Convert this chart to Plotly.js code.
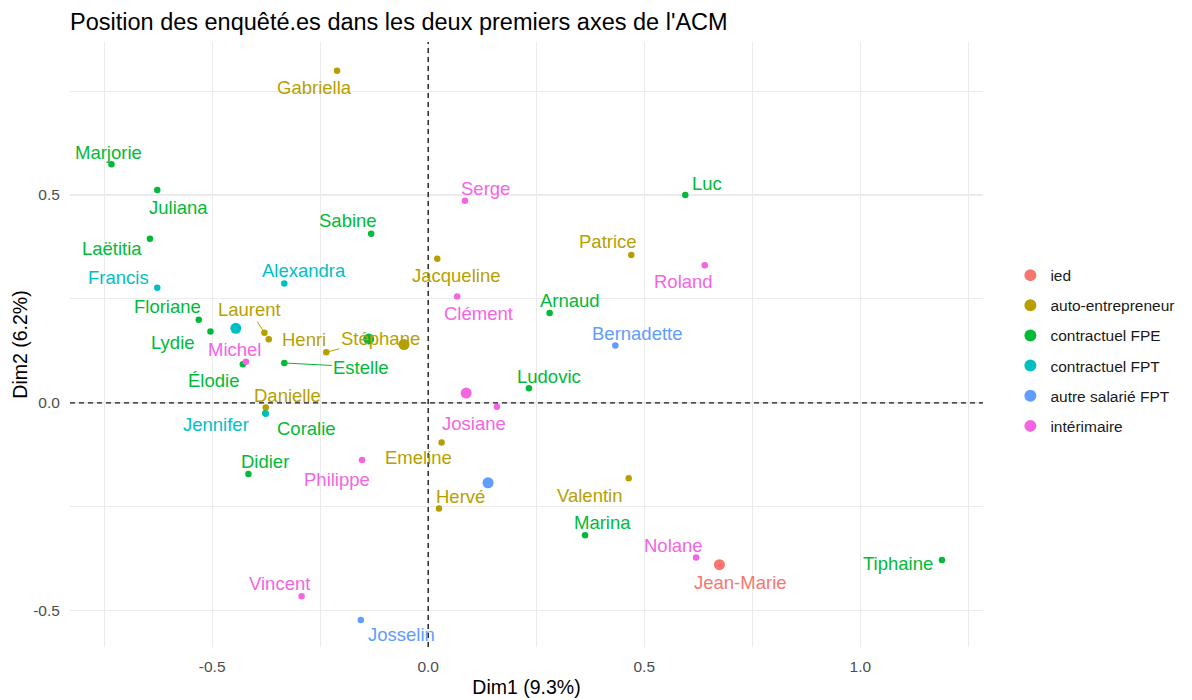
<!DOCTYPE html>
<html>
<head>
<meta charset="utf-8">
<script src="https://cdn.plot.ly/plotly-3.0.1.min.js"></script>
<style>html,body{margin:0;padding:0;background:#fff;}#chart{width:1192px;height:700px;}</style>
</head>
<body>
<div id="chart"></div>
<script>
// ---- data ----
const categories = ["ied", "auto-entrepreneur", "contractuel FPE", "contractuel FPT", "autre salarié FPT", "intérimaire"];
const names = ["Jean-Marie",
  "Gabriella","Laurent","Henri","Stéphane","Danielle","Jacqueline","Patrice","Emeline","Hervé","Valentin",
  "Marjorie","Juliana","Laëtitia","Sabine","Floriane","Lydie","Estelle","Élodie","Coralie","Luc","Arnaud","Ludovic","Didier","Marina","Tiphaine",
  "Francis","Alexandra","Jennifer",
  "Bernadette","Josselin",
  "Michel","Serge","Roland","Clément","Josiane","Philippe","Vincent","Nolane"];
const groups = ["ied",
  "auto-entrepreneur","auto-entrepreneur","auto-entrepreneur","auto-entrepreneur","auto-entrepreneur","auto-entrepreneur","auto-entrepreneur","auto-entrepreneur","auto-entrepreneur","auto-entrepreneur",
  "contractuel FPE","contractuel FPE","contractuel FPE","contractuel FPE","contractuel FPE","contractuel FPE","contractuel FPE","contractuel FPE","contractuel FPE","contractuel FPE","contractuel FPE","contractuel FPE","contractuel FPE","contractuel FPE","contractuel FPE",
  "contractuel FPT","contractuel FPT","contractuel FPT",
  "autre salarié FPT","autre salarié FPT",
  "intérimaire","intérimaire","intérimaire","intérimaire","intérimaire","intérimaire","intérimaire","intérimaire"];
const dim1 = [0.674,
  -0.211,-0.379,-0.369,-0.236,-0.376,0.021,0.470,0.031,0.025,0.464,
  -0.733,-0.627,-0.644,-0.132,-0.531,-0.504,-0.333,-0.429,-0.377,0.595,0.281,0.233,-0.416,0.363,1.189,
  -0.627,-0.333,-0.376,
  0.433,-0.156,
  -0.422,0.085,0.640,0.067,0.159,-0.153,-0.293,0.620];
const dim2 = [-0.389,
  0.799,0.169,0.153,0.122,-0.011,0.347,0.356,-0.095,-0.254,-0.181,
  0.574,0.512,0.395,0.407,0.200,0.172,0.096,0.093,-0.025,0.500,0.216,0.035,-0.171,-0.318,-0.378,
  0.277,0.287,-0.026,
  0.138,-0.522,
  0.099,0.486,0.331,0.256,-0.009,-0.137,-0.465,-0.372];
const xTickVals = [-0.5, 0, 0.5, 1];
const xTickText = ["-0.5", "0.0", "0.5", "1.0"];
const yTickVals = [-0.5, 0, 0.5];
const yTickText = ["-0.5", "0.0", "0.5"];

// ---- styles / label placement (pixels, label centre relative to point) ----
const colors = {"ied":"#F8766D","auto-entrepreneur":"#B79F00","contractuel FPE":"#00BA38","contractuel FPT":"#00BFC4","autre salarié FPT":"#619CFF","intérimaire":"#F564E3"};
const labelPos = {
  "Marjorie":[-3,-12],"Juliana":[21,17],"Laëtitia":[-38,10],"Francis":[-39,-10],"Sabine":[-23,-13],
  "Alexandra":[20,-13],"Floriane":[-31,-13],"Lydie":[-37,11],"Laurent":[-15,-23,1],"Henri":[35,0],
  "Stéphane":[54,-14,1],"Estelle":[77,4,1],"Michel":[-11,-12],"Élodie":[-29,16],"Danielle":[22,-12],
  "Jennifer":[-50,11],"Coralie":[41,15],"Jacqueline":[19,17],"Serge":[21,-12],"Luc":[22,-12],
  "Patrice":[-23,-13],"Roland":[-21,16],"Clément":[21,17],"Arnaud":[20,-13],"Bernadette":[22,-12],
  "Ludovic":[20,-12],"Josiane":[-23,17],"Emeline":[-23,15],"Philippe":[-25,20],"Didier":[17,-13],
  "Hervé":[21,-12],"Valentin":[-39,17],"Marina":[17,-13],"Vincent":[-22,-13],"Josselin":[41,15],
  "Nolane":[-23,-12],"Jean-Marie":[21,18],"Tiphaine":[-44,3],"Gabriella":[-23,17]
};
const FONT = "Liberation Sans, Arial, sans-serif";

const traces = [];
categories.forEach(cat => {
  const xs = [], ys = [];
  groups.forEach((g, i) => { if (g === cat) { xs.push(dim1[i]); ys.push(dim2[i]); } });
  traces.push({type:"scatter", mode:"markers", x:xs, y:ys, name:cat, legendgroup:cat,
    marker:{color:colors[cat], size:6.5}, hoverinfo:"skip", cliponaxis:false});
});
// group centroids (means of each category)
categories.forEach(cat => {
  const xs = [], ys = [];
  groups.forEach((g, i) => { if (g === cat) { xs.push(dim1[i]); ys.push(dim2[i]); } });
  const mx = xs.reduce((a,b)=>a+b,0)/xs.length, my = ys.reduce((a,b)=>a+b,0)/ys.length;
  traces.push({type:"scatter", mode:"markers", x:[mx], y:[my], name:cat, legendgroup:cat, showlegend:false,
    marker:{color:colors[cat], size:11}, hoverinfo:"skip"});
});

const annotations = names.map((n, i) => {
  const p = labelPos[n] || [0,-12];
  const c = colors[groups[i]];
  return {x:dim1[i], y:dim2[i], xref:"x", yref:"y", text:n, showarrow:true,
    ax:p[0], ay:p[1], arrowhead:0, arrowwidth:1, standoff:2,
    arrowcolor: p[2] ? c : "rgba(0,0,0,0)",
    font:{family:FONT, size:18.5, color:c}};
});

const layout = {
  width:1192, height:700,
  margin:{l:70, r:207, t:42, b:53},
  paper_bgcolor:"#fff", plot_bgcolor:"#fff",
  title:{text:"Position des enquêté.es dans les deux premiers axes de l'ACM", xref:"paper", x:0, xanchor:"left",
    yref:"container", y:1-22/700, yanchor:"middle", font:{family:FONT, size:23.5, color:"#000"}},
  xaxis:{range:[-0.829, 1.284], tickvals:xTickVals, ticktext:xTickText, showgrid:true, gridcolor:"#EBEBEB", gridwidth:1.2,
    minor:{dtick:0.25, tick0:0, showgrid:true, gridcolor:"#EBEBEB", gridwidth:1},
    zeroline:false, showline:false, ticks:"outside", ticklen:5, tickcolor:"rgba(0,0,0,0)",
    tickfont:{family:FONT, size:15.5, color:"#4D4D4D"},
    title:{text:"Dim1 (9.3%)", font:{family:FONT, size:19.5, color:"#000"}, standoff:6}},
  yaxis:{range:[-0.587, 0.868], tickvals:yTickVals, ticktext:yTickText, showgrid:true, gridcolor:"#EBEBEB", gridwidth:1.2,
    minor:{dtick:0.25, tick0:0, showgrid:true, gridcolor:"#EBEBEB", gridwidth:1},
    zeroline:false, showline:false, ticks:"outside", ticklen:6, tickcolor:"rgba(0,0,0,0)",
    tickfont:{family:FONT, size:15.5, color:"#4D4D4D"},
    title:{text:"Dim2 (6.2%)", font:{family:FONT, size:19.5, color:"#000"}, standoff:0}},
  shapes:[
    {type:"line", xref:"x", yref:"paper", x0:0, x1:0, y0:0, y1:1, layer:"above", line:{color:"#1A1A1A", width:1.4, dash:"5px,4px"}},
    {type:"line", xref:"paper", yref:"y", x0:0, x1:1, y0:0, y1:0, layer:"above", line:{color:"#1A1A1A", width:1.4, dash:"5px,4px"}}
  ],
  showlegend:true,
  legend:{x:1.03, xanchor:"left", y:0.49, yanchor:"middle", traceorder:"grouped", tracegroupgap:7,
    itemsizing:"constant", font:{family:FONT, size:15.5, color:"#1A1A1A"}, bgcolor:"rgba(0,0,0,0)"},
  annotations:annotations
};

Plotly.newPlot("chart", traces, layout, {displayModeBar:false, staticPlot:true});
</script>
</body>
</html>
